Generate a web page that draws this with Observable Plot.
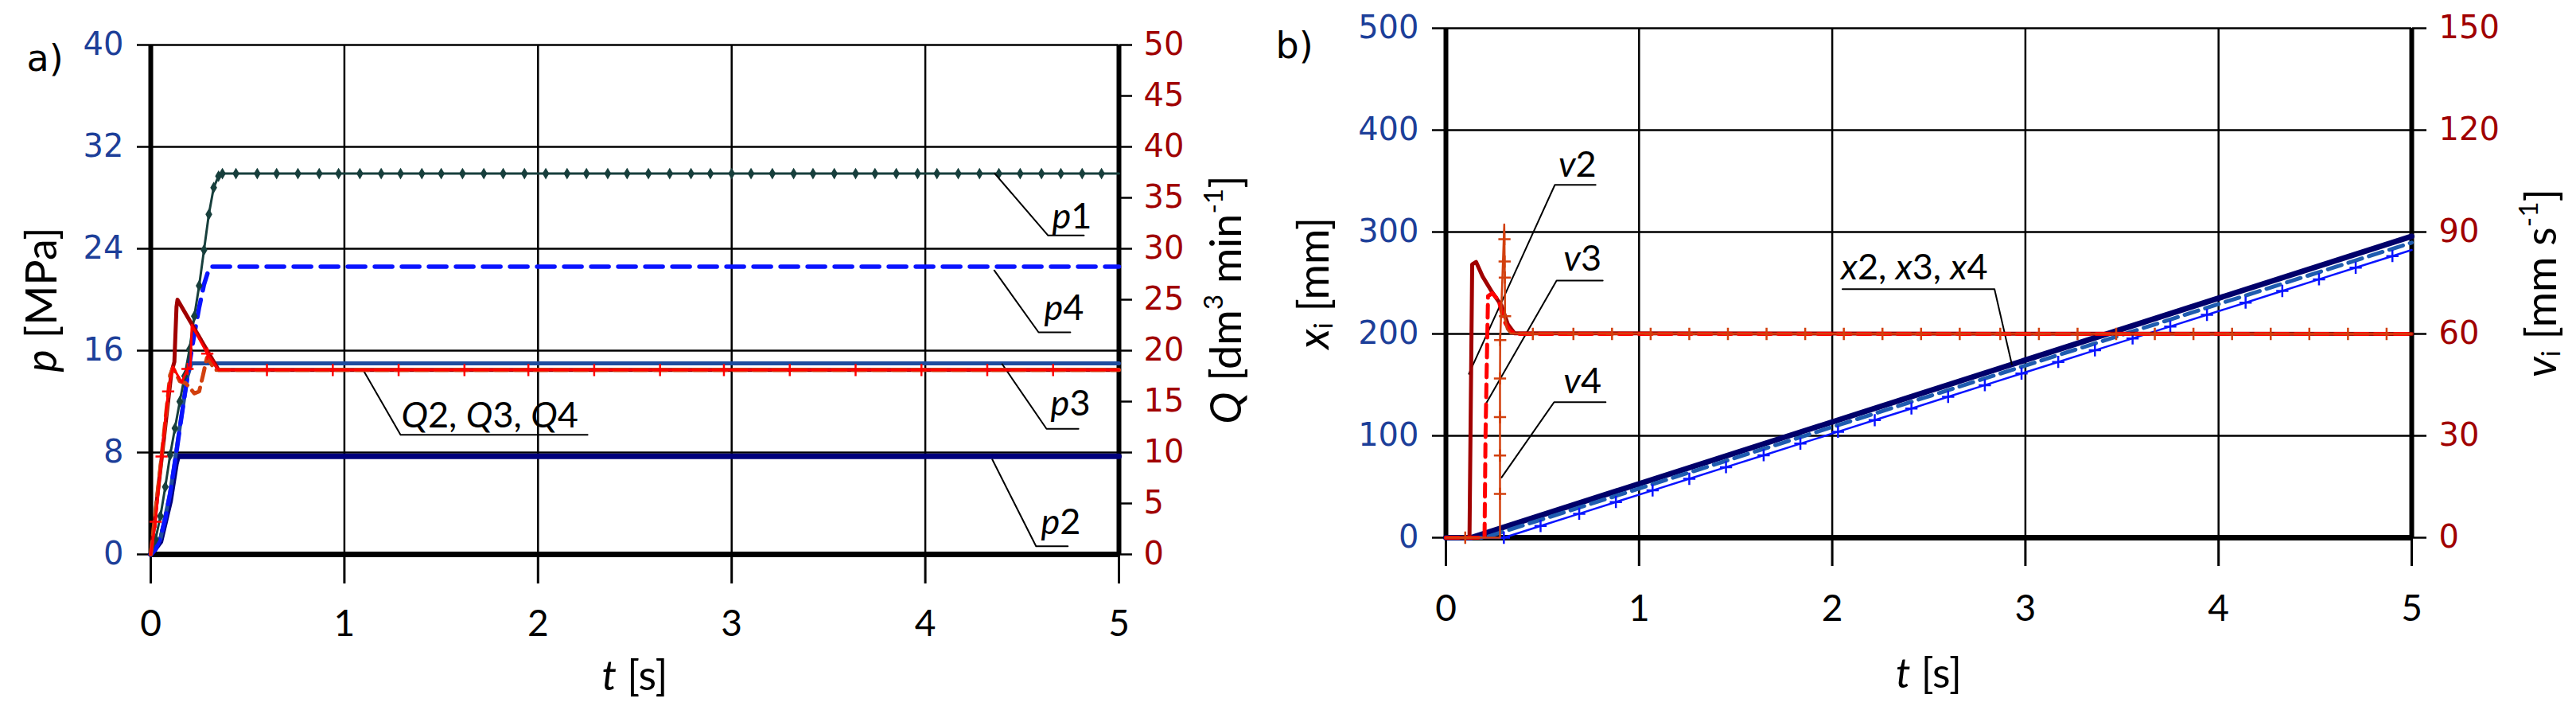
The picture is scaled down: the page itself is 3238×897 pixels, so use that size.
<!DOCTYPE html>
<html><head><meta charset="utf-8">
<script src="https://cdn.jsdelivr.net/npm/d3@7"></script>
<script src="https://cdn.jsdelivr.net/npm/@observablehq/plot@0.6"></script>
<style>
html,body{margin:0;padding:0;background:#fff;}
#wrap{position:relative;width:3238px;height:897px;overflow:hidden;background:#fff;}
#wrap svg{position:absolute;top:0;max-width:none;}
</style></head><body><div id="wrap"></div>
<script>
// ================= DATA =================
// ---- Panel a) : pressures p [MPa] (left axis) and flow rates Q [dm3 min-1] (right axis) vs t [s]
const tTicksA = [0, 1, 2, 3, 4, 5];
const pTicks = [0, 8, 16, 24, 32, 40];
const qTicks = [0, 5, 10, 15, 20, 25, 30, 35, 40, 45, 50];

const p1T = [0,0.025,0.05,0.075,0.1,0.125,0.15,0.175,0.2,0.225,0.25,0.275,0.3,0.325,0.35,0.37,
  0.44,0.55,0.65,0.76,0.87,0.97,1.08,1.19,1.29,1.40,1.50,1.61,1.72,1.82,1.93,2.04,2.15,2.25,2.36,2.46,
  2.57,2.68,2.79,2.89,3.00,3.10,3.21,3.32,3.42,3.53,3.64,3.74,3.85,3.96,4.06,4.17,4.28,4.38,4.49,4.60,
  4.70,4.81,4.91,5.0];
const p1V = [0,1.2,3.0,5.3,7.8,9.9,12.0,14.0,16.1,18.7,21.1,23.9,26.7,28.8,29.7,29.9,
  29.9,29.9,29.9,29.9,29.9,29.9,29.9,29.9,29.9,29.9,29.9,
  29.9,29.9,29.9,29.9,29.9,29.9,29.9,29.9,29.9,29.9,29.9,
  29.9,29.9,29.9,29.9,29.9,29.9,29.9,29.9,29.9,29.9,29.9,
  29.9,29.9,29.9,29.9,29.9,29.9,29.9,29.9,29.9,29.9,29.9];
const p2T = [0, 0.05, 0.1, 0.13, 0.14, 5];
const p2V = [0, 1.0, 4.2, 7.1, 7.7, 7.7];
const p3T = [0, 0.05, 0.1, 0.15, 0.19, 0.21, 5];
const p3V = [0, 1.2, 4.8, 10.0, 14.0, 15.0, 15.0];
const p4T = [0, 0.025, 0.05, 0.075, 0.1, 0.125, 0.15, 0.175, 0.2, 0.225, 0.25, 0.275, 0.3, 0.31, 5];
const p4V = [0, 0.4, 1.3, 2.8, 4.8, 7.2, 9.9, 12.5, 15.0, 17.3, 19.4, 21.2, 22.4, 22.6, 22.6];

const q2T = [0, 0.107, 0.122, 0.133, 0.138, 0.35, 5];
const q2V = [0, 17.9, 18.9, 24.3, 25.0, 18.1, 18.1];
const q3T = [0, 0.025, 0.056, 0.09, 0.114, 0.16, 0.19, 0.205, 0.212, 0.292, 0.35, 5];
const q3V = [0, 3.2, 9.6, 16.0, 18.4, 16.9, 18.2, 18.4, 22.5, 19.7, 18.1, 18.1];
const q3MarkT = [0.025,0.056,0.09,0.19,0.292,0.60,0.94,1.28,1.62,1.95,2.29,2.63,2.96,3.30,3.64,3.98,4.32,4.66];
const q3MarkV = [3.2,9.6,16.0,18.2,19.7,18.1,18.1,18.1,18.1,18.1,18.1,18.1,18.1,18.1,18.1,18.1,18.1,18.1];
const q4T = [0, 0.05, 0.1, 0.115, 0.15, 0.18, 0.2, 0.225, 0.25, 0.27, 0.29, 0.31, 0.33, 5];
const q4V = [0, 8.6, 17.6, 18.3, 17.0, 16.8, 16.4, 15.8, 16.0, 17.6, 19.3, 18.8, 18.1, 18.1];

// curve labels of panel a (text anchor in t / p units) and their leader polylines
const labelsA = ["*p*1", "*p*4", "*p*3", "*p*2", "*Q*2, *Q*3, *Q*4"];
const labelAT = [4.655, 4.614, 4.647, 4.597, 1.294];
const labelAP = [26.5, 19.3, 11.8, 2.5, 10.9];
const leadersA = [
  [[4.359, 29.9], [4.634, 25.04], [4.819, 25.04]],
  [[4.356, 22.3], [4.585, 17.44], [4.749, 17.44]],
  [[4.397, 14.94], [4.626, 9.86], [4.791, 9.86]],
  [[4.346, 7.45], [4.572, 0.64], [4.736, 0.64]],
  [[1.101, 14.375], [1.29, 9.39], [2.256, 9.39]]
];

// ---- Panel b) : displacements x_i [mm] (left axis) and velocities v_i [mm s-1] (right axis) vs t [s]
const xTicks = [0, 100, 200, 300, 400, 500];
const vTicks = [0, 30, 60, 90, 120, 150];

const x2T = [0, 0.13, 5];
const x2V = [0, 0, 295.8];
const x3T = [0, 0.2, 5];
const x3V = [0, 0, 289.6];
const x4T = [0,0.30,0.49,0.69,0.88,1.07,1.26,1.45,1.645,1.835,2.03,2.22,2.41,2.60,2.79,2.98,3.17,3.36,3.555,3.75,3.94,4.14,4.33,4.52,4.71,4.90,5.0];
const x4V = [0,0,11.5,23.5,35.0,46.4,57.8,69.2,80.9,92.3,104.0,115.4,126.8,138.3,149.7,161.1,172.5,183.9,195.6,207.3,218.7,230.7,242.2,253.6,265.0,276.4,282.4];

const v2T = [0, 0.122, 0.136, 0.156, 0.19, 0.239, 0.287, 0.32, 0.355, 5];
const v2V = [0, 0, 80.5, 81.2, 76.9, 72.3, 68.4, 62.9, 60.2, 60];
const v3T = [0, 0.2, 0.205, 0.218, 0.24, 0.273, 0.3, 0.33, 0.36, 5];
const v3V = [0, 0, 30, 71.1, 72.0, 69.9, 64, 61, 60, 60];
const v4T = [0, 0.28, 0.28, 0.28, 0.28, 0.28, 0.281, 0.302, 0.303, 0.304, 0.305, 0.306, 0.315, 0.335, 5];
const v4V = [0, 0, 12.9, 24.2, 35.5, 46.9, 58.2, 92.2, 87.9, 81.3, 76.6, 65.2, 61.5, 60.1, 60];
const v4MarkT = [0.1,0.28,0.28,0.28,0.28,0.281,0.303,0.304,0.305,0.306,0.45,0.66,0.86,1.06,1.26,1.46,1.66,1.86,2.06,2.26,2.46,2.66,2.87,3.07,3.27,3.47,3.67,3.87,4.07,4.27,4.47,4.67,4.87];
const v4MarkV = [0,12.9,24.2,35.5,46.9,58.2,87.9,81.3,76.6,65.2,60,60,60,60,60,60,60,60,60,60,60,60,60,60,60,60,60,60,60,60,60,60,60];

const labelsB = ["*v*2", "*v*3", "*v*4", "*x*2, *x*3, *x*4"];
const labelBT = [0.583, 0.609, 0.609, 2.045];
const labelBX = [365.3, 273.3, 153.4, 264.9];
const leadersB = [
  [[0.119, 160.8], [0.564, 346.3], [0.775, 346.3]],
  [[0.21, 132.4], [0.573, 252.3], [0.812, 252.3]],
  [[0.288, 59.1], [0.56, 133.0], [0.827, 133.0]],
  [[2.053, 243.9], [2.84, 243.9], [2.93, 170]]
];

// ================= HELPERS =================
const rows = (T, V) => T.map((t, i) => ({t, v: V[i]}));
const leaderRows = (L) => L.flatMap((pts, k) => pts.map(([t, v]) => ({t, v, k})));
const labelRows = (S, T, V) => S.map((s, i) => ({s, t: T[i], v: V[i]}));

const TICKF = "'DejaVu Sans', Verdana, sans-serif";
const TXTF = "Lato, 'Open Sans', sans-serif";
const BLUE_T = "#1d3f99", RED_T = "#a00000";
const wrap = document.getElementById("wrap");

function mount(svg, left) { svg.style.left = left + "px"; wrap.appendChild(svg); richAll(svg); return svg; }

// turns *italic*, ^superscript^ and ~subscript~ markup in text marks into tspans
function richAll(svg) {
  const NS = "http://www.w3.org/2000/svg";
  svg.querySelectorAll("text").forEach(el => {
    const src = el.textContent;
    if (!/[*^~]/.test(src)) return;
    const fs = parseFloat(getComputedStyle(el).fontSize) || 45;
    el.textContent = "";
    let italic = false, mode = "n", cur = 0, buf = "";
    const flush = () => {
      if (!buf) return;
      const ts = document.createElementNS(NS, "tspan");
      if (italic) ts.setAttribute("font-style", "italic");
      const target = mode === "sup" ? -0.42 * fs : mode === "sub" ? 0.1 * fs : 0;
      if (target !== cur) { ts.setAttribute("dy", target - cur); cur = target; }
      if (mode !== "n") ts.setAttribute("font-size", 0.62 * fs);
      ts.textContent = buf;
      el.appendChild(ts);
      buf = "";
    };
    for (const ch of src) {
      if (ch === "*") { flush(); italic = !italic; }
      else if (ch === "^") { flush(); mode = mode === "sup" ? "n" : "sup"; }
      else if (ch === "~") { flush(); mode = mode === "sub" ? "n" : "sub"; }
      else buf += ch;
    }
    flush();
  });
}

const W_A = 1600, W_B = 1638, H = 897;
const mA = {marginLeft: 189, marginRight: W_A - 1406, marginTop: 56, marginBottom: H - 696};
const mB = {marginLeft: 217, marginRight: W_B - 1431, marginTop: 35, marginBottom: H - 675};
const baseStyle = {background: "transparent", overflow: "visible", fontFamily: TICKF, color: "#000"};
const intFmt = d3.format("d");
const titleOpts = {textAnchor: "middle", lineAnchor: "middle", fontFamily: TXTF, fill: "#000"};

function frameMarks(gx, gy, yTop) {
  return [
    Plot.gridY(gy, {stroke: "#000", strokeOpacity: 1, strokeWidth: 2.5}),
    Plot.gridX(gx, {stroke: "#000", strokeOpacity: 1, strokeWidth: 2.5}),
    Plot.ruleX([0, 5], {y1: 0, y2: yTop, stroke: "#000", strokeWidth: 6}),
    Plot.ruleY([0], {stroke: "#000", strokeWidth: 7})
  ];
}

// ================= PANEL a) base (p scale) =================
const svgA = Plot.plot({
  width: W_A, height: H, ...mA,
  x: {domain: [0, 5]}, y: {domain: [0, 40]},
  style: baseStyle,
  marks: [
    ...frameMarks([1, 2, 3, 4], [8, 16, 24, 32, 40], 40),
    Plot.axisY({ticks: pTicks, anchor: "left", tickSize: 17, tickPadding: 17, stroke: "#000", strokeWidth: 2.5,
      fill: BLUE_T, fontSize: 40, fontFamily: TICKF, label: null, tickFormat: intFmt}),
    Plot.axisX({ticks: tTicksA, tickSize: 37, tickPadding: 33, stroke: "#000", strokeWidth: 3,
      fill: "#000", fontSize: 46, fontFamily: TXTF, label: null, tickFormat: intFmt}),
    Plot.line(rows(p2T, p2V), {x: "t", y: "v", stroke: "#00007c", strokeWidth: 7}),
    Plot.line(rows(p3T, p3V), {x: "t", y: "v", stroke: "#1f4c9e", strokeWidth: 5}),
    Plot.line(rows(p4T, p4V), {x: "t", y: "v", stroke: "#0a14ff", strokeWidth: 5.5, strokeDasharray: "22,12"}),
    Plot.line(rows(p1T, p1V), {x: "t", y: "v", stroke: "#173f3c", strokeWidth: 3}),
    Plot.dot(rows(p1T, p1V).filter(d => d.t > 0 && d.t < 4.99), {x: "t", y: "v", symbol: "diamond", r: 4.5, fill: "#173f3c", stroke: "none"}),
    Plot.line(leaderRows(leadersA), {x: "t", y: "v", z: "k", stroke: "#000", strokeWidth: 2}),
    Plot.text(labelRows(labelsA, labelAT, labelAP), {x: "t", y: "v", text: "s", textAnchor: "start", lineAnchor: "middle",
      fontSize: 45, fontFamily: TXTF, fill: "#000"}),
    Plot.text(["*p* [MPa]"], {frameAnchor: "left", dx: -136, rotate: -90, fontSize: 54, ...titleOpts}),
    Plot.text(["*t* [s]"], {frameAnchor: "bottom", dy: 154, fontSize: 52, ...titleOpts}),
    Plot.text(["a)"], {frameAnchor: "top-left", dx: -156, dy: 18, textAnchor: "start", lineAnchor: "middle", fontSize: 46, fontFamily: TICKF, fill: "#000"})
  ]
});
mount(svgA, 0);

// ================= PANEL a) overlay (Q scale) =================
const svgA2 = Plot.plot({
  width: W_A, height: H, ...mA,
  x: {domain: [0, 5], axis: null}, y: {domain: [0, 50]},
  style: baseStyle,
  marks: [
    Plot.axisY({ticks: qTicks, anchor: "right", tickSize: 16, tickPadding: 15, stroke: "#000", strokeWidth: 2.5,
      fill: RED_T, fontSize: 40, fontFamily: TICKF, label: null, tickFormat: intFmt}),
    Plot.line(rows(q2T, q2V), {x: "t", y: "v", stroke: "#a00000", strokeWidth: 5}),
    Plot.line(rows(q4T, q4V), {x: "t", y: "v", stroke: "#d2400e", strokeWidth: 5, strokeDasharray: "16,9"}),
    Plot.line(rows(q3T, q3V), {x: "t", y: "v", stroke: "#ff0000", strokeWidth: 3}),
    Plot.dot(rows(q3MarkT, q3MarkV), {x: "t", y: "v", symbol: "plus", r: 5, stroke: "#ff0000", strokeWidth: 2.5}),
    Plot.text(["*Q* [dm^3^ min^-1^]"], {frameAnchor: "right", dx: 136, rotate: -90, fontSize: 54, ...titleOpts})
  ]
});
mount(svgA2, 0);

// ================= PANEL b) base (x scale) =================
const svgB = Plot.plot({
  width: W_B, height: H, ...mB,
  x: {domain: [0, 5]}, y: {domain: [0, 500]},
  style: baseStyle,
  marks: [
    ...frameMarks([1, 2, 3, 4], [100, 200, 300, 400, 500], 500),
    Plot.axisY({ticks: xTicks, anchor: "left", tickSize: 17, tickPadding: 17, stroke: "#000", strokeWidth: 2.5,
      fill: BLUE_T, fontSize: 40, fontFamily: TICKF, label: null, tickFormat: intFmt}),
    Plot.axisX({ticks: tTicksA, tickSize: 36, tickPadding: 36, stroke: "#000", strokeWidth: 3,
      fill: "#000", fontSize: 46, fontFamily: TXTF, label: null, tickFormat: intFmt}),
    Plot.line(rows(x2T, x2V), {x: "t", y: "v", stroke: "#00006a", strokeWidth: 7}),
    Plot.line(rows(x3T, x3V), {x: "t", y: "v", stroke: "#1f5cb0", strokeWidth: 5, strokeDasharray: "18,9"}),
    Plot.line(rows(x4T, x4V), {x: "t", y: "v", stroke: "#0a14ff", strokeWidth: 2.5}),
    Plot.dot(rows(x4T, x4V).filter(d => d.t >= 0.3 && d.t < 4.99), {x: "t", y: "v", symbol: "plus", r: 5, stroke: "#0a14ff", strokeWidth: 2.5}),
    Plot.line(leaderRows(leadersB), {x: "t", y: "v", z: "k", stroke: "#000", strokeWidth: 2}),
    Plot.text(labelRows(labelsB, labelBT, labelBX), {x: "t", y: "v", text: "s", textAnchor: "start", lineAnchor: "middle",
      fontSize: 45, fontFamily: TXTF, fill: "#000"}),
    Plot.text(["*x*~i~ [mm]"], {frameAnchor: "left", dx: -165, rotate: -90, fontSize: 54, ...titleOpts}),
    Plot.text(["*t* [s]"], {frameAnchor: "bottom", dy: 172, fontSize: 52, ...titleOpts}),
    Plot.text(["b)"], {frameAnchor: "top-left", dx: -214, dy: 23, textAnchor: "start", lineAnchor: "middle", fontSize: 46, fontFamily: TICKF, fill: "#000"})
  ]
});
mount(svgB, 1600);

// ================= PANEL b) overlay (v scale) =================
const svgB2 = Plot.plot({
  width: W_B, height: H, ...mB,
  x: {domain: [0, 5], axis: null}, y: {domain: [0, 150]},
  style: baseStyle,
  marks: [
    Plot.axisY({ticks: vTicks, anchor: "right", tickSize: 18, tickPadding: 16, stroke: "#000", strokeWidth: 2.5,
      fill: RED_T, fontSize: 40, fontFamily: TICKF, label: null, tickFormat: intFmt}),
    Plot.line(rows(v2T, v2V), {x: "t", y: "v", stroke: "#a00000", strokeWidth: 5}),
    Plot.line(rows(v3T, v3V), {x: "t", y: "v", stroke: "#ff0000", strokeWidth: 5, strokeDasharray: "16,9"}),
    Plot.line(rows(v4T, v4V), {x: "t", y: "v", stroke: "#d2400e", strokeWidth: 2.5}),
    Plot.dot(rows(v4MarkT, v4MarkV), {x: "t", y: "v", symbol: "plus", r: 5, stroke: "#d2400e", strokeWidth: 2.5}),
    Plot.text(["*v*~i~ [mm s^-1^]"], {frameAnchor: "right", dx: 164, rotate: -90, fontSize: 54, ...titleOpts})
  ]
});
mount(svgB2, 1600);
</script></body></html>
